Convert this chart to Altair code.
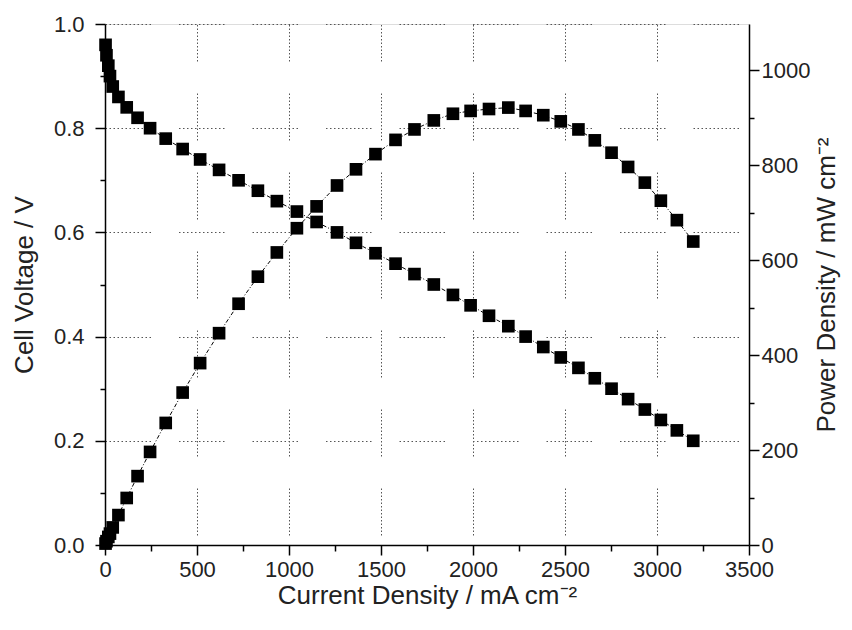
import altair as alt
import pandas as pd

# Data
current = [3, 8, 18, 27, 42, 73, 118, 177, 245, 330, 422, 517, 620, 726, 831, 934,
           1043, 1150, 1261, 1364, 1470, 1579, 1682, 1787, 1891, 1987, 2087, 2192,
           2286, 2382, 2477, 2573, 2662, 2753, 2843, 2934, 3021, 3108, 3197]
voltage = [0.96, 0.94, 0.92, 0.90, 0.88, 0.86, 0.84, 0.82, 0.80, 0.78, 0.76, 0.74,
           0.72, 0.70, 0.68, 0.66, 0.64, 0.62, 0.60, 0.58, 0.56, 0.54, 0.52, 0.50,
           0.48, 0.46, 0.44, 0.42, 0.40, 0.38, 0.36, 0.34, 0.32, 0.30, 0.28, 0.26,
           0.24, 0.22, 0.20]
power = [3, 8, 17, 24, 37, 63, 99, 145, 196, 257, 321, 383, 446, 508, 565, 616,
         667, 713, 757, 791, 823, 853, 875, 894, 908, 914, 918, 921, 914, 905, 892,
         875, 852, 826, 796, 763, 725, 684, 639]

x_major = [0, 500, 1000, 1500, 2000, 2500, 3000, 3500]
x_minor = [250, 750, 1250, 1750, 2250, 2750, 3250]
v_major = [0.0, 0.2, 0.4, 0.6, 0.8, 1.0]
v_minor = [0.1, 0.3, 0.5, 0.7, 0.9]
p_major = [0, 200, 400, 600, 800, 1000]
p_minor = [100, 300, 500, 700, 900]

df = pd.DataFrame({"current": current, "voltage": voltage, "power": power})

FONT = "Liberation Sans"
LBL = 22
TTL = 26
hdash = [1.5, 2.5] * 11 + [1.5, 28]
vdash = [1.5, 2] * 13 + [1.5, 32]
GRID = "#555555"

xs = alt.Scale(domain=[0, 3500], nice=False, zero=False)
vs = alt.Scale(domain=[0, 1.0], nice=False, zero=False)
ps = alt.Scale(domain=[0, 1097], nice=False, zero=False)

common = dict(labelFont=FONT, titleFont=FONT, labelFontSize=LBL, titleFontSize=TTL,
              titleFontWeight="normal", labelColor="#222", titleColor="#222",
              domainColor="black", domainWidth=1.5, tickColor="black", tickWidth=1.5,
              labelFlush=False, labelOverlap=False)

x_main = alt.Axis(orient="bottom", values=x_major, tickSize=10, format="d",
                  title="Current Density / mA cm\u207b\u00b2", labelPadding=4, titlePadding=2,
                  grid=True, gridColor=GRID, gridWidth=1, gridDash=vdash,
                  gridDashOffset=10, **common)
x_min = alt.Axis(orient="bottom", values=x_minor, tickSize=6, labels=False,
                 domain=False, grid=False, title=None, **common)
v_main = alt.Axis(orient="left", values=v_major, tickSize=10, format=".1f",
                  title="Cell Voltage / V", labelPadding=11, titlePadding=16,
                  grid=True, gridColor=GRID, gridWidth=1, gridDash=hdash,
                  gridDashOffset=0, **common)
v_min = alt.Axis(orient="left", values=v_minor, tickSize=5, labels=False,
                 domain=False, grid=False, title=None, **common)
p_main = alt.Axis(orient="right", values=p_major, tickSize=10, format="d",
                  title="Power Density / mW cm\u207b\u00b2", labelPadding=2, titlePadding=30,
                  titleAngle=270, grid=False, **common)
p_min = alt.Axis(orient="right", values=p_minor, tickSize=5, labels=False,
                 domain=False, grid=False, title=None, **common)

line_kw = dict(color="black", strokeWidth=1, strokeDash=[4, 2, 1, 2],
               point=alt.OverlayMarkDef(shape="square", size=160, filled=True,
                                        color="black", opacity=1))

base = alt.Chart(df)

l_v = base.mark_line(**line_kw).encode(
    x=alt.X("current:Q", scale=xs, axis=x_main),
    y=alt.Y("voltage:Q", scale=vs, axis=v_main),
)
l_vmin = base.mark_point(opacity=0).encode(
    x=alt.X("current:Q", scale=xs, axis=x_min),
    y=alt.Y("voltage:Q", scale=vs, axis=v_min),
)
l_p = base.mark_line(**line_kw).encode(
    x=alt.X("current:Q", scale=xs, axis=None),
    y=alt.Y("power:Q", scale=ps, axis=p_main),
)
l_pmin = base.mark_point(opacity=0).encode(
    x=alt.X("current:Q", scale=xs, axis=None),
    y=alt.Y("power:Q", scale=ps, axis=p_min),
)

chart = alt.layer(l_v, l_vmin, l_p, l_pmin).resolve_scale(
    y="independent"
).resolve_axis(
    x="independent", y="independent"
).properties(
    width=644, height=521,
    autosize=alt.AutoSizeParams(type="none"),
    padding={"left": 97, "top": 16, "right": 95, "bottom": 76},
).configure_view(
    stroke="black", strokeWidth=1.5
).configure(background="white")

chart.save("out.html", embed_options={"renderer": "svg", "actions": False})
